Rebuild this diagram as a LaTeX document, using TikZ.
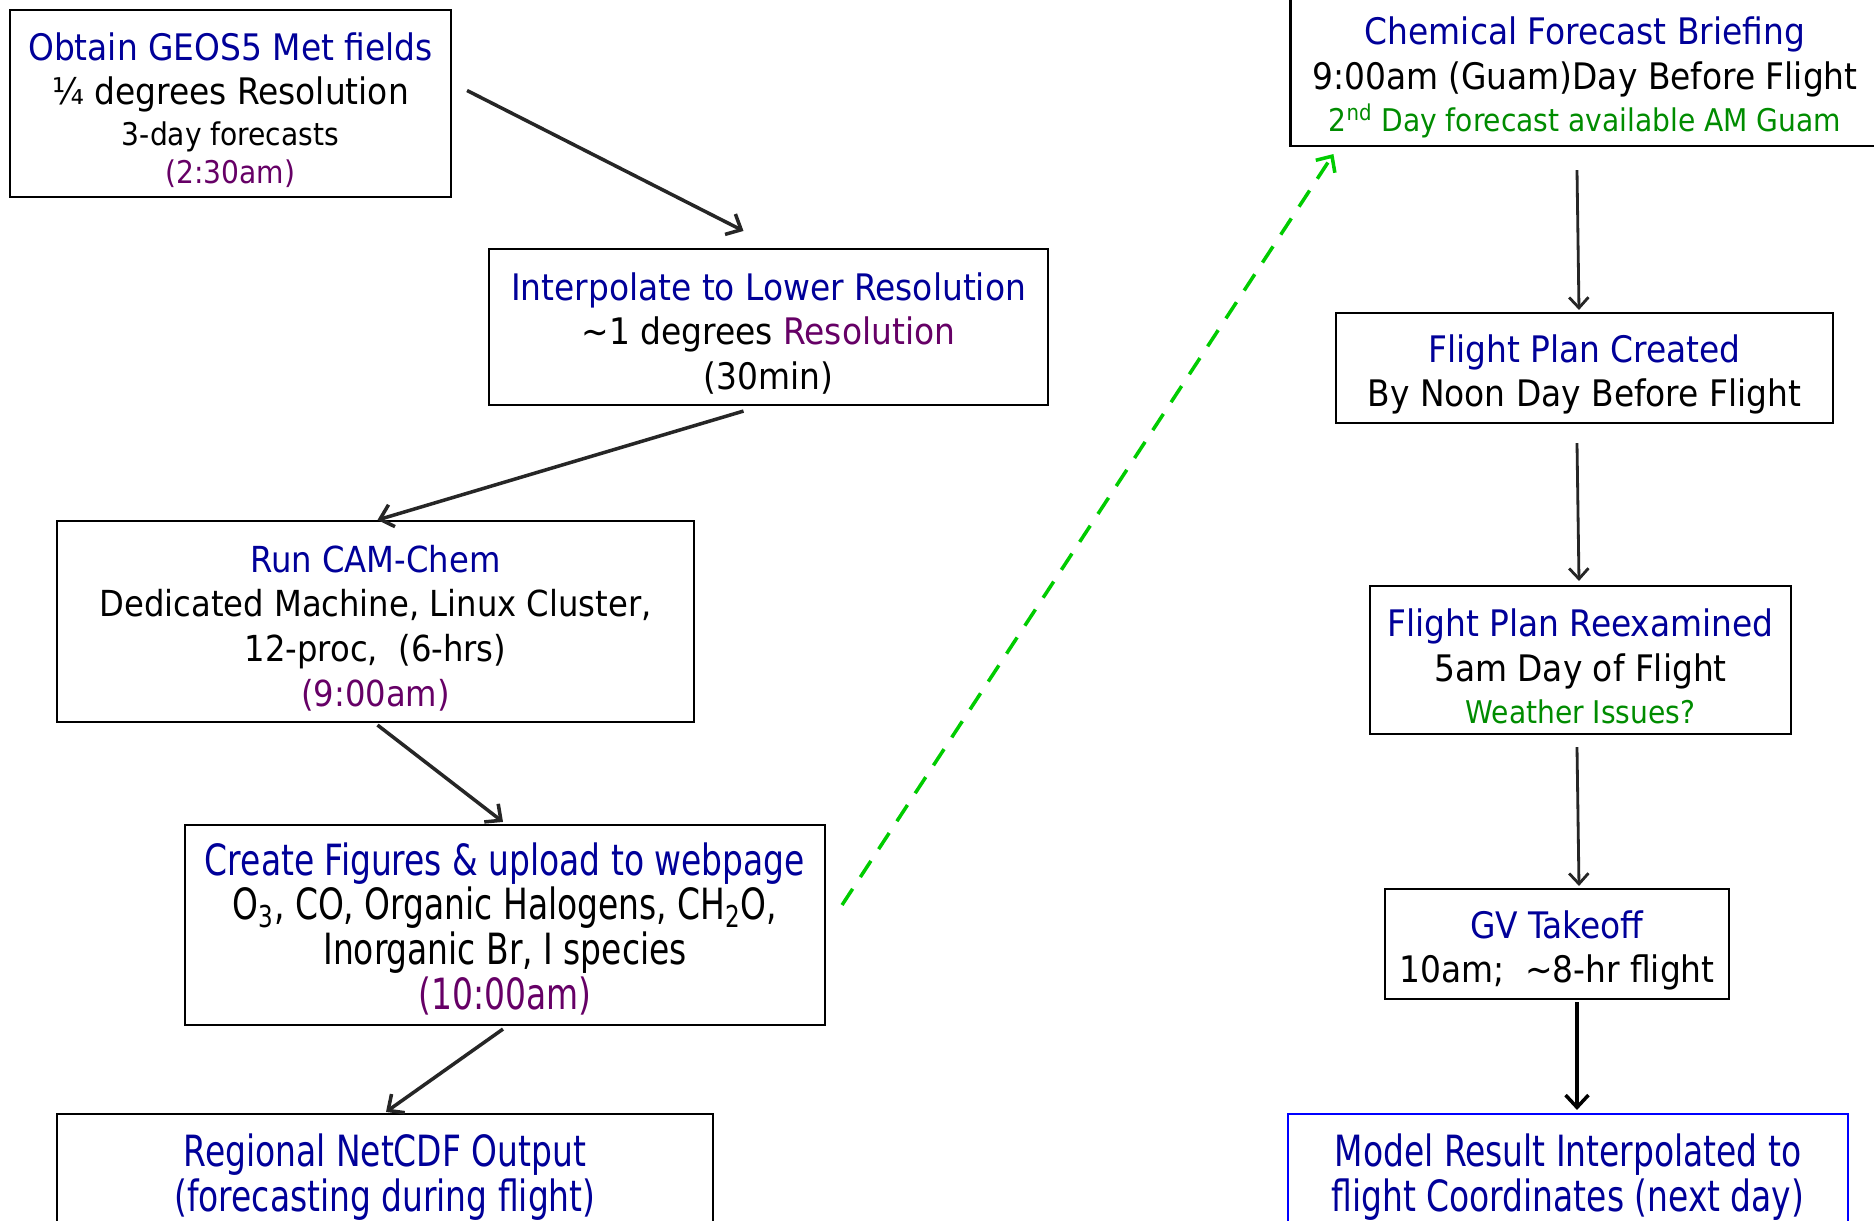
\documentclass[tikz,border=0pt]{standalone}
\usepackage{fontspec}
\setmainfont{DejaVu Sans Condensed}
\newfontfamily\narrowfont[FakeStretch=0.85]{DejaVu Sans Condensed}
\usetikzlibrary{arrows.meta}
\definecolor{titleblue}{RGB}{0,0,153}
\definecolor{timepurple}{RGB}{102,0,102}
\definecolor{notegreen}{RGB}{0,140,0}
\definecolor{dashgreen}{RGB}{0,204,0}
\definecolor{arrowgray}{RGB}{38,38,38}
\definecolor{edgeblue}{RGB}{0,0,255}
\newcommand{\pxu}{0.02cm}
\newcommand{\bodytxt}{\fontsize{20.8}{25.5}\selectfont}
\newcommand{\narrowtxt}{\fontsize{24.5}{25.5}\selectfont\narrowfont}
\newcommand{\smalltxt}{\fontsize{17.8}{22}\selectfont}
\newcommand{\topstrut}{\rule{0pt}{23pt}}

\begin{document}
\begin{tikzpicture}[x=0.02cm,y=-0.02cm,
  box/.style={rectangle,draw=black,line width=1.2pt,fill=white,align=center,inner sep=0pt,font=\bodytxt},
  flow/.style={-{Straight Barb[length=7pt,width=13pt]},line width=2pt,draw=arrowgray},
  thinflow/.style={-{Straight Barb[length=6pt,width=11pt]},line width=1.6pt,draw=arrowgray}]
\clip (0,0) rectangle (1874,1221);
\fill[white] (0,0) rectangle (1874,1221);
% Model side (left column)
\node[box,minimum width=441*\pxu,minimum height=187*\pxu] (obtain) at (230.5,103.5)
  {\topstrut\textcolor{titleblue}{Obtain GEOS5 Met fields}\\ ¼ degrees Resolution\\[-2.5pt]
   {\smalltxt 3-day forecasts}\\[-4pt] {\smalltxt\textcolor{timepurple}{(2:30am)}}};
\node[box,minimum width=559*\pxu,minimum height=156*\pxu] (interp) at (768.5,327)
  {\topstrut\textcolor{titleblue}{Interpolate to Lower Resolution}\\
   \textasciitilde1 degrees \textcolor{timepurple}{Resolution}\\ (30min)};
\node[box,minimum width=637*\pxu,minimum height=201*\pxu,font=\fontsize{20.4}{25.5}\selectfont] (runcam) at (375.5,621.5)
  {\topstrut\textcolor{titleblue}{Run CAM-Chem}\\ Dedicated Machine, Linux Cluster,\\
   12-proc,\ \ (6-hrs)\\ \textcolor{timepurple}{(9:00am)}};
\node[box,minimum width=640*\pxu,minimum height=200*\pxu,font=\narrowtxt] (figures) at (505,925)
  {\topstrut\textcolor{titleblue}{Create Figures \& upload to webpage}\\
   O\textsubscript{3}, CO, Organic Halogens, CH\textsubscript{2}O,\\
   Inorganic Br, I species\\ \textcolor{timepurple}{(10:00am)}};
\node[box,minimum width=656*\pxu,minimum height=118*\pxu,font=\narrowtxt,text=titleblue] (netcdf) at (385,1173)
  {\topstrut Regional NetCDF Output\\ (forecasting during flight)};
% Flight side (right column)
\node[box,minimum width=589*\pxu,minimum height=150*\pxu] (briefing) at (1585,71)
  {\topstrut\textcolor{titleblue}{Chemical Forecast Briefing}\\ 9:00am (Guam)Day Before Flight\\[-1.5pt]
   {\smalltxt\textcolor{notegreen}{2\textsuperscript{nd} Day forecast available AM Guam}}};
\node[box,minimum width=497*\pxu,minimum height=110*\pxu] (created) at (1584.5,368)
  {\topstrut\textcolor{titleblue}{Flight Plan Created}\\ By Noon Day Before Flight};
\node[box,minimum width=421*\pxu,minimum height=148*\pxu] (reexam) at (1580.5,660)
  {\topstrut\textcolor{titleblue}{Flight Plan Reexamined}\\ 5am Day of Flight\\[-2pt]
   {\smalltxt\textcolor{notegreen}{Weather Issues?}}};
\node[box,minimum width=344*\pxu,minimum height=110*\pxu] (takeoff) at (1557,944)
  {\topstrut\textcolor{titleblue}{GV Takeoff}\\ 10am;\ \ \textasciitilde8-hr flight};
\node[box,draw=edgeblue,minimum width=560*\pxu,minimum height=118*\pxu,font=\narrowtxt,text=titleblue] (model) at (1568,1173)
  {\topstrut Model Result Interpolated to\\ flight Coordinates (next day)};
% Connectors
\draw[flow] ([shift={(15,-13)}]obtain.east) -- ([shift={(-25,-17)}]interp.north);
\draw[flow] ([shift={(-25,5)}]interp.south) -- ([shift={(2,0)}]runcam.north);
\draw[flow] ([shift={(2,2)}]runcam.south) -- ([shift={(-2,-2)}]figures.north);
\draw[flow] ([shift={(-2,3)}]figures.south) -- ([shift={(1,-1)}]netcdf.north);
\draw[flow,draw=dashgreen,dash pattern=on 11pt off 8pt] ([shift={(16,-20)}]figures.east) -- ([shift={(44,7)}]briefing.south west);
\draw[thinflow] ([shift={(-8,23)}]briefing.south) -- ([shift={(-5.5,-2)}]created.north);
\draw[thinflow] ([shift={(-7.5,19)}]created.south) -- ([shift={(-1.5,-4)}]reexam.north);
\draw[thinflow] ([shift={(-3.5,12)}]reexam.south) -- ([shift={(22,-2)}]takeoff.north);
\draw[flow,draw=black] ([shift={(20,2)}]takeoff.south) -- ([shift={(9,-3)}]model.north);
\end{tikzpicture}
\end{document}
